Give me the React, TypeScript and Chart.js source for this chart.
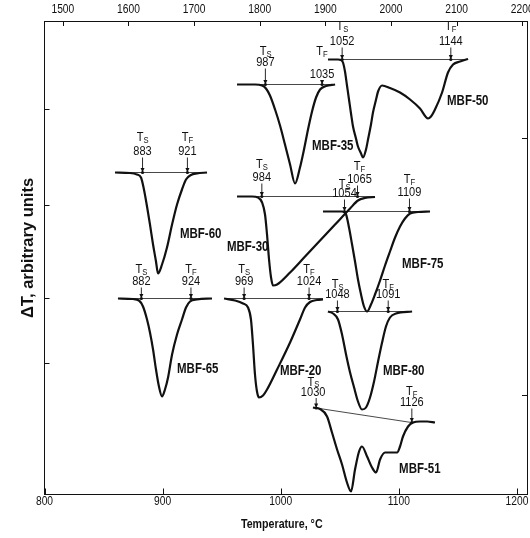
import React, { useEffect, useRef } from 'react';
import { Chart, registerables } from 'chart.js';

Chart.register(...registerables);

const SANS = '"Liberation Sans", Arial, sans-serif';
const NARROW_FACTOR = 0.82;

// Axes
const X_MIN = 800;
const X_MAX = 1208.5;
const Y_MIN = 0;
const Y_MAX = 47.35;
const celsiusTicks = [800, 900, 1000, 1100, 1200];
const fahrenheitTicks = [1500, 1600, 1700, 1800, 1900, 2000, 2100, 2200];
const leftTicks = [38.6, 29, 19.7, 13.2];
const rightTicks = [35.7, 10];

// DTA curves: temperature (°C) and ΔT (arbitrary units)
const mbf60T = [859.7, 872.4, 878.3, 881.7, 884.2, 886.8, 889.3, 891.9, 894.4, 896.1, 899.5, 903.7, 908, 912.2, 916.4, 919.8, 924, 929.1, 937.6];
const mbf60D = [32.2, 32.15, 32, 31.7, 30.5, 28.8, 27, 25, 23.3, 22.1, 23, 24.7, 27, 29, 30.5, 31.5, 31.95, 32.1, 32.2];

const mbf35T = [963, 978.2, 984.2, 987.5, 990.9, 995.2, 999.4, 1003.6, 1007.9, 1012.1, 1016.3, 1019.7, 1023.1, 1026.5, 1029.9, 1033.3, 1038.3, 1046];
const mbf35D = [41, 41, 40.9, 40.6, 39.9, 38.5, 36.9, 35, 33, 31.1, 32.7, 34.5, 36.5, 38.3, 39.7, 40.5, 40.85, 41];

const mbf50T = [1040, 1048.5, 1051, 1052.7, 1054.4, 1056.1, 1057.8, 1059.5, 1061.2, 1063.7, 1065.4, 1068, 1069.7, 1072.2, 1073.9, 1076.4, 1078.1, 1080.7, 1082.4, 1085.8, 1092.5, 1101, 1109.5, 1117.9, 1124.7, 1127.2, 1130.6, 1136.6, 1141.6, 1145.9, 1151.8, 1158.6];
const mbf50D = [43.5, 43.5, 43.45, 43.2, 42.3, 40.9, 39.5, 38.1, 36.8, 35.6, 34.8, 34.1, 33.7, 34.5, 35.5, 37, 38.2, 39.5, 40.3, 40.9, 40.65, 40.2, 39.5, 38.6, 37.6, 37.8, 38.5, 40.2, 42.2, 43, 43.3, 43.55];

const mbf30T = [963, 975.7, 980.8, 984.2, 986.7, 988.4, 990.1, 991.8, 993.5, 996.9, 1007.9, 1020.6, 1033.3, 1046, 1058.7, 1065.4, 1071.4, 1079.8];
const mbf30D = [29.8, 29.8, 29.7, 29.2, 28, 26, 23.5, 21.7, 20.9, 21, 22.2, 23.8, 25.4, 27, 28.6, 29.4, 29.65, 29.75];

const mbf75T = [1035.8, 1046, 1051.9, 1055.3, 1057.8, 1060.4, 1062.9, 1065.4, 1068, 1070.5, 1073.1, 1076.4, 1079.8, 1084.1, 1088.3, 1092.5, 1096.8, 1101, 1105.2, 1109.5, 1116.2, 1126.4];
const mbf75D = [28.3, 28.3, 28.3, 28, 26.7, 25, 23.3, 21.5, 20, 18.8, 18.3, 19, 20, 21.4, 22.9, 24.3, 25.7, 26.8, 27.6, 28.1, 28.25, 28.3];

const mbf65T = [862.2, 874.9, 880, 883.4, 886.8, 889.3, 891.9, 894.4, 896.9, 899.5, 902, 904.6, 908, 912.2, 916.4, 919.8, 923.2, 929.1, 941.8];
const mbf65D = [19.6, 19.55, 19.4, 18.8, 17.5, 16.2, 14.5, 12.5, 10.8, 9.8, 10.5, 11.7, 14, 16, 17.5, 18.7, 19.3, 19.5, 19.6];

const mbf20T = [952, 961.3, 968.1, 972.3, 974.8, 976.5, 978.2, 979.9, 981.6, 985, 988.4, 996.9, 1007.9, 1016.3, 1020.6, 1024.8, 1030.7, 1035.8];
const mbf20D = [19.6, 19.4, 19.1, 18.7, 17.5, 15, 12, 10.3, 9.7, 9.9, 10.5, 12.5, 15.2, 17.5, 18.7, 19.25, 19.45, 19.5];

const mbf80T = [1040, 1044.3, 1048.5, 1051.9, 1055.3, 1058.7, 1062.1, 1065.4, 1068.8, 1072.2, 1075.6, 1079, 1082.4, 1085.8, 1089.1, 1092.5, 1097.6, 1111.2];
const mbf80D = [18.3, 18.1, 17.5, 16, 14, 12.2, 10.7, 9.3, 8.5, 8.7, 9.7, 11.3, 13.3, 15.2, 16.8, 17.7, 18.1, 18.3];

const mbf51T = [1027.3, 1033.3, 1039.2, 1043.4, 1047.7, 1051.9, 1056.1, 1059.5, 1062.9, 1066.3, 1068.8, 1073.1, 1077.3, 1080.7, 1084.1, 1088.3, 1092.5, 1098.5, 1101, 1103.5, 1107.8, 1112, 1117.9, 1123.9, 1130.6];
const mbf51D = [8.7, 8.55, 7.8, 6.2, 4.5, 3, 1.2, 0.3, 2.5, 4.3, 4.8, 3.8, 2.7, 2.2, 3.5, 4.2, 4.2, 4.2, 4.8, 5.8, 6.8, 7.2, 7.3, 7.3, 7.2];

const sampleNames = ['MBF-60', 'MBF-35', 'MBF-50', 'MBF-30', 'MBF-75', 'MBF-65', 'MBF-20', 'MBF-80', 'MBF-51'];
const sampleT = [mbf60T, mbf35T, mbf50T, mbf30T, mbf75T, mbf65T, mbf20T, mbf80T, mbf51T];
const sampleD = [mbf60D, mbf35D, mbf50D, mbf30D, mbf75D, mbf65D, mbf20D, mbf80D, mbf51D];

// Tangent baselines (start/end temperature and level)
const baseStartT = [859.7, 963, 1040, 963, 1035.8, 862.2, 952, 1040, 1027.3];
const baseEndT = [937.6, 1046, 1158.6, 1079.8, 1126.4, 941.8, 1035.8, 1111.2, 1110.7];
const baseStartD = [32.2, 41, 43.5, 29.8, 28.3, 19.6, 19.6, 18.3, 8.7];
const baseEndD = [32.2, 41, 43.5, 29.8, 28.3, 19.6, 19.6, 18.3, 7.2];

// Solidus / finish markers
const markerTemps = [883, 921, 987, 1035, 1052, 1144, 984, 1065, 1054, 1109, 882, 924, 969, 1024, 1048, 1091, 1030, 1111];
const markerLevels = [32.2, 32.2, 41, 41, 43.5, 43.5, 29.8, 29.8, 28.3, 28.3, 19.6, 19.6, 19.6, 19.6, 18.3, 18.3, 8.65, 7.2];
const markerKinds = ['S', 'F', 'S', 'F', 'S', 'F', 'S', 'F', 'S', 'F', 'S', 'F', 'S', 'F', 'S', 'F', 'S', 'F'];
const markerLabels = ['883', '921', '987', '1035', '1052', '1144', '984', '1065', '1054', '1109', '882', '924', '969', '1024', '1048', '1091', '1030', '1126'];

// Label layout (pixel offsets of "T" label and number above each marker)
const markerLayout = [
  [-35, -21, 0], [-35, -21, 0], [-33, -22, 0], [-33, -10, 0], [-33, -18, 0], [-33, -18, 0],
  [-32, -19, 0], [-30, -17, 2], [-27, -18, 0], [-32, -19, 0], [-29, -17, 0], [-29, -17, 0],
  [-29, -17, 0], [-29, -17, 0], [-27, -17, 0], [-27, -17, 0], [-26, -16, -3], [-31, -20, 0],
];
const nameAnchorT = [914.7, 1026.5, 1140.8, 954.5, 1102.7, 912.2, 999.4, 1086.6, 1100.2];
const nameAnchorD = [26, 34.8, 39.3, 24.7, 23, 12.5, 12.3, 12.3, 2.5];

function narrowText(ctx: CanvasRenderingContext2D, text: string, x: number, y: number, font: string, align: CanvasTextAlign, sx = NARROW_FACTOR) {
  ctx.save();
  ctx.font = font;
  ctx.textAlign = align;
  ctx.textBaseline = 'middle';
  ctx.translate(x, y);
  ctx.scale(sx, 1);
  ctx.fillText(text, 0, 0);
  ctx.restore();
}

const overlay = {
  id: 'overlay',
  afterDraw(chart: any) {
    const ctx = chart.ctx as CanvasRenderingContext2D;
    const xs = chart.scales.x, ys = chart.scales.y, xt = chart.scales.x2, yr = chart.scales.y2;
    const { left, right, top, bottom } = chart.chartArea;
    ctx.save();
    ctx.strokeStyle = '#111';
    ctx.fillStyle = '#111';
    ctx.lineWidth = 1;
    ctx.beginPath();
    xs.ticks.forEach((t: any) => { const p = Math.round(xs.getPixelForValue(t.value)) + 0.5; ctx.moveTo(p, bottom); ctx.lineTo(p, bottom - 6); });
    xt.ticks.forEach((t: any) => { const p = Math.round(xt.getPixelForValue(t.value)) + 0.5; ctx.moveTo(p, top); ctx.lineTo(p, top + 5); });
    ys.ticks.forEach((t: any) => { const p = Math.round(ys.getPixelForValue(t.value)) + 0.5; ctx.moveTo(left, p); ctx.lineTo(left + 5, p); });
    yr.ticks.forEach((t: any) => { const p = Math.round(yr.getPixelForValue(t.value)) + 0.5; ctx.moveTo(right, p); ctx.lineTo(right - 5, p); });
    ctx.stroke();

    // tick labels (condensed, no thousands separator)
    xs.ticks.forEach((t: any) => narrowText(ctx, String(t.value), xs.getPixelForValue(t.value), 502, `12.5px ${SANS}`, 'center'));
    xt.ticks.forEach((t: any) => narrowText(ctx, String(t.value), xt.getPixelForValue(t.value), 10, `12.5px ${SANS}`, 'center'));

    // markers
    markerTemps.forEach((t, i) => {
      const px = xs.getPixelForValue(t);
      const py = ys.getPixelForValue(markerLevels[i]);
      const [tDy, nDy, nDx] = markerLayout[i];
      const a0 = py + nDy + 6;
      ctx.lineWidth = 0.9;
      ctx.beginPath();
      ctx.moveTo(px, a0);
      ctx.lineTo(px, py - 2);
      ctx.stroke();
      ctx.beginPath();
      ctx.moveTo(px - 2, py - 4.5);
      ctx.lineTo(px + 2, py - 4.5);
      ctx.lineTo(px, py);
      ctx.closePath();
      ctx.fill();
      ctx.beginPath();
      ctx.arc(px, py, 1.6, 0, Math.PI * 2);
      ctx.fill();
      narrowText(ctx, markerLabels[i], px + nDx, py + nDy, `13px ${SANS}`, 'center', 0.85);
      narrowText(ctx, 'T', px + 1 + nDx, py + tDy, `13px ${SANS}`, 'right', 0.85);
      narrowText(ctx, markerKinds[i], px + 1 + nDx, py + tDy + 3, `9px ${SANS}`, 'left', 0.85);
    });

    // sample names
    sampleNames.forEach((n, i) => {
      narrowText(ctx, n, xs.getPixelForValue(nameAnchorT[i]), ys.getPixelForValue(nameAnchorD[i]), `bold 14px ${SANS}`, 'left');
    });

    // axis titles
    narrowText(ctx, 'Temperature, \u00B0C', (left + right) / 2 - 4, 524, `bold 13px ${SANS}`, 'center');
    ctx.save();
    ctx.translate(28, 248);
    ctx.rotate(-Math.PI / 2);
    ctx.font = `bold 16.5px ${SANS}`;
    ctx.textAlign = 'center';
    ctx.textBaseline = 'middle';
    ctx.fillText('\u0394T, arbitrary units', 0, 0);
    ctx.restore();
    ctx.restore();
  },
};

export default function App() {
  const ref = useRef<HTMLCanvasElement>(null);
  useEffect(() => {
    const canvas = ref.current!;
    const datasets: any[] = [];
    sampleNames.forEach((name, i) => {
      datasets.push({
        label: name + ' curve',
        data: sampleT[i].map((t, k) => ({ x: t, y: sampleD[i][k] })),
        borderColor: '#111',
        borderWidth: 2.2,
        pointRadius: 0,
        cubicInterpolationMode: 'monotone',
        fill: false,
      });
      datasets.push({
        label: name + ' baseline',
        data: [{ x: baseStartT[i], y: baseStartD[i] }, { x: baseEndT[i], y: baseEndD[i] }],
        borderColor: '#333',
        borderWidth: 0.9,
        pointRadius: 0,
        tension: 0,
        fill: false,
      });
    });
    const chart = new Chart(canvas, {
      type: 'line',
      data: { datasets },
      options: {
        animation: false,
        responsive: false,
        layout: { padding: 0 },
        plugins: { legend: { display: false }, tooltip: { enabled: false } },
        scales: {
          x: {
            type: 'linear', position: 'bottom', min: X_MIN, max: X_MAX,
            grid: { display: false, drawTicks: false },
            border: { display: true, color: '#111', width: 1 },
            ticks: { display: false },
            afterBuildTicks: (s: any) => { s.ticks = celsiusTicks.map((v) => ({ value: v })); },
            afterFit: (s: any) => { s.height = 43.5; s.paddingLeft = 0; s.paddingRight = 0; },
          },
          x2: {
            type: 'linear', position: 'top', min: X_MIN * 1.8 + 32, max: X_MAX * 1.8 + 32,
            grid: { display: false, drawTicks: false },
            border: { display: true, color: '#111', width: 1 },
            ticks: { display: false },
            afterBuildTicks: (s: any) => { s.ticks = fahrenheitTicks.map((v) => ({ value: v })); },
            afterFit: (s: any) => { s.height = 21; s.paddingLeft = 0; s.paddingRight = 0; },
          },
          y: {
            type: 'linear', position: 'left', min: Y_MIN, max: Y_MAX,
            grid: { display: false, drawTicks: false },
            border: { display: true, color: '#111', width: 1 },
            ticks: { display: false },
            afterBuildTicks: (s: any) => { s.ticks = leftTicks.map((v) => ({ value: v })); },
            afterFit: (s: any) => { s.width = 44.5; s.paddingTop = 0; s.paddingBottom = 0; },
          },
          y2: {
            type: 'linear', position: 'right', min: Y_MIN, max: Y_MAX,
            grid: { display: false, drawTicks: false },
            border: { display: true, color: '#111', width: 1 },
            ticks: { display: false },
            afterBuildTicks: (s: any) => { s.ticks = rightTicks.map((v) => ({ value: v })); },
            afterFit: (s: any) => { s.width = 3; s.paddingTop = 0; s.paddingBottom = 0; },
          },
        },
      } as any,
      plugins: [overlay],
    });
    return () => chart.destroy();
  }, []);
  return (
    <div style={{ position: 'absolute', left: 0, top: 0, width: 530, height: 538, background: '#fff' }}>
      <canvas ref={ref} width={530} height={538} style={{ display: 'block' }} />
    </div>
  );
}
